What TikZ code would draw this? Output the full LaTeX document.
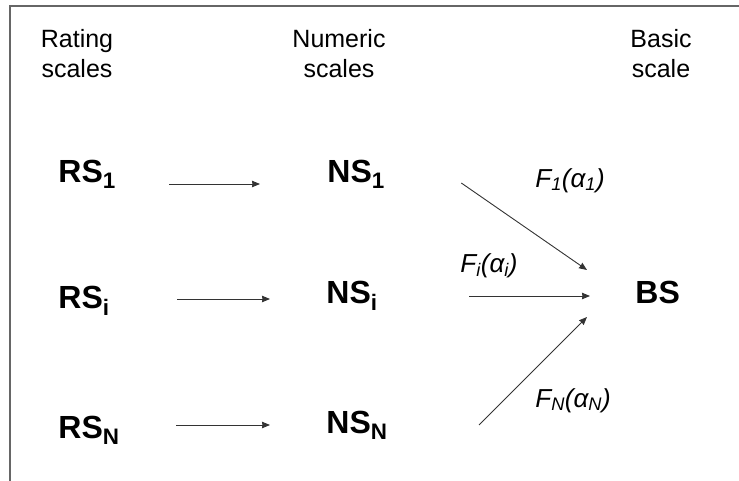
\documentclass[tikz,border=0pt]{standalone}
\usepackage{fontspec}
\setmainfont{Liberation Sans}
\usetikzlibrary{positioning, arrows.meta}

\begin{document}
\begin{tikzpicture}[x=1pt,y=-1pt,->,>={Stealth[length=8pt,width=6.5pt,inset=0.5pt]},line width=0.9pt,
    heading/.style={font=\fontsize{25}{30}\selectfont, align=center, inner sep=0pt, anchor=north},
    scalebox/.style={font=\fontsize{32}{38}\selectfont\bfseries, inner sep=0pt, anchor=base west},
    funlabel/.style={font=\fontsize{26}{31}\selectfont\itshape, inner sep=0pt, anchor=base west},
    map/.style={draw=black!80}]
  \useasboundingbox (0,0) rectangle (739,480);
  % frame of the slide
  \draw[-, black!60, line width=2pt] (10,495) -- (10,6) -- (750,6);

  % column headings
  \node[heading] (hrs) at (77,29) {Rating\\scales};
  \node[heading] (hns) at (339,29) {Numeric\\scales};
  \node[heading] (hbs) at (661,29) {Basic\\scale};

  % scales
  \node[scalebox] (rs1) at (58,182) {RS\textsubscript{1}};
  \node[scalebox] (rsi) at (58,308) {RS\textsubscript{i}};
  \node[scalebox] (rsN) at (58,438) {RS\textsubscript{N}};
  \node[scalebox] (ns1) at (327,182) {NS\textsubscript{1}};
  \node[scalebox] (nsi) at (326,303) {NS\textsubscript{i}};
  \node[scalebox] (nsN) at (326,433) {NS\textsubscript{N}};
  \node[scalebox] (bs) at (635,303) {BS};

  % mapping functions
  \node[funlabel] (f1) at (535,187) {F\textsubscript{1}(α\textsubscript{1})};
  \node[funlabel] (fi) at (460,272) {F\textsubscript{i}(α\textsubscript{i})};
  \node[funlabel] (fN) at (535,407) {F\textsubscript{N}(α\textsubscript{N})};

  \draw[map] ([xshift=53pt,yshift=-2pt]rs1.base east) -- ([xshift=-67pt,yshift=-2pt]ns1.base west);
  \draw[map] ([xshift=67pt,yshift=9pt]rsi.base east) -- ([xshift=-56pt,yshift=4pt]nsi.base west);
  \draw[map] ([xshift=56pt,yshift=13pt]rsN.base east) -- ([xshift=-56pt,yshift=8pt]nsN.base west);

  \draw[map] ([xshift=76pt,yshift=-1pt]ns1.base east) -- ([xshift=-48pt,yshift=33pt]bs.base west);
  \draw[map] ([xshift=91pt,yshift=7pt]nsi.base east) -- ([xshift=-45pt,yshift=7pt]bs.base west);
  \draw[map] ([xshift=91pt,yshift=8pt]nsN.base east) -- ([xshift=-48pt,yshift=-14pt]bs.base west);
\end{tikzpicture}
\end{document}
